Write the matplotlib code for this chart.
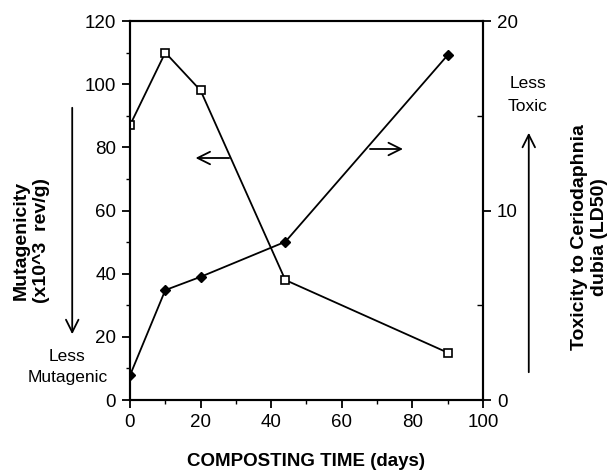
import numpy as np
import matplotlib.pyplot as plt

plt.rcParams['font.family'] = ['Liberation Sans', 'DejaVu Sans']

# donnees
days = [0, 10, 20, 44, 90]
mutagenicity = [87, 110, 98, 38, 15]        # x10^3 rev/g (axe gauche)
toxicity = [1.3, 5.8, 6.5, 8.35, 18.2]      # LD50 (axe droit)

fig = plt.figure(figsize=(6.12, 4.72), dpi=100)
ax = fig.add_axes([0.2124, 0.1525, 0.5768, 0.803])
ax2 = ax.twinx()

ax.plot(days, mutagenicity, color='black', lw=1.3, marker='s', ms=6,
        mfc='white', mec='black', mew=1.2, zorder=3)
ax2.plot(days, toxicity, color='black', lw=1.3, marker='D', ms=5,
         mfc='black', mec='black', zorder=3)

ax.set_xlim(0, 100)
ax.set_ylim(0, 120)
ax2.set_ylim(0, 20)

ax.set_xticks(np.arange(0, 101, 20))
ax.set_xticks(np.arange(10, 100, 20), minor=True)
ax.set_yticks(np.arange(0, 121, 20))
ax.set_yticks(np.arange(10, 120, 20), minor=True)
ax2.set_yticks([0, 10, 20])
ax2.set_yticks([5, 15], minor=True)

ax.tick_params(which='major', direction='out', length=6, width=1.3,
               labelsize=13.5, pad=4)
ax.tick_params(which='minor', direction='out', length=3, width=1.0)
ax2.tick_params(which='major', direction='out', length=6, width=1.3,
                labelsize=13.5, pad=4)
ax2.tick_params(which='minor', direction='in', length=4, width=1.0)
for a in (ax, ax2):
    for s in a.spines.values():
        s.set_linewidth(1.5)

ax.set_xlabel('COMPOSTING TIME (days)', fontsize=13.5, fontweight='bold',
              labelpad=16)

fig.text(0.052, 0.49, 'Mutagenicity\n(x10^3  rev/g)', rotation=90,
         ha='center', va='center', fontsize=14, fontweight='bold',
         linespacing=1.25)
fig.text(0.963, 0.497, 'Toxicity to Ceriodaphnia\ndubia (LD50)', rotation=90,
         ha='center', va='center', fontsize=14, fontweight='bold',
         linespacing=1.2)

# fleches verticales
arrow_kw = dict(arrowstyle='->,head_length=0.9,head_width=0.45', lw=1.3,
                color='black')
ax.annotate('', xy=(0.118, 1 - 337 / 472), xytext=(0.118, 1 - 105 / 472),
            xycoords='figure fraction', arrowprops=arrow_kw,
            annotation_clip=False)
ax.annotate('', xy=(0.864, 1 - 130 / 472), xytext=(0.864, 1 - 375 / 472),
            xycoords='figure fraction', arrowprops=arrow_kw,
            annotation_clip=False)
fig.text(0.11, 1 - 367 / 472, 'Less\nMutagenic', ha='center', va='center',
         fontsize=12.5, linespacing=1.5)
fig.text(0.862, 1 - 95 / 472, 'Less\nToxic', ha='center', va='center',
         fontsize=12.5, linespacing=1.6)

# fleches horizontales (quel axe)
ax.annotate('', xy=(0.315, 1 - 158 / 472), xytext=(0.379, 1 - 158 / 472),
            xycoords='figure fraction', arrowprops=arrow_kw)
ax.annotate('', xy=(0.663, 1 - 149 / 472), xytext=(0.6, 1 - 149 / 472),
            xycoords='figure fraction', arrowprops=arrow_kw)

plt.savefig('out.png', dpi=100)
